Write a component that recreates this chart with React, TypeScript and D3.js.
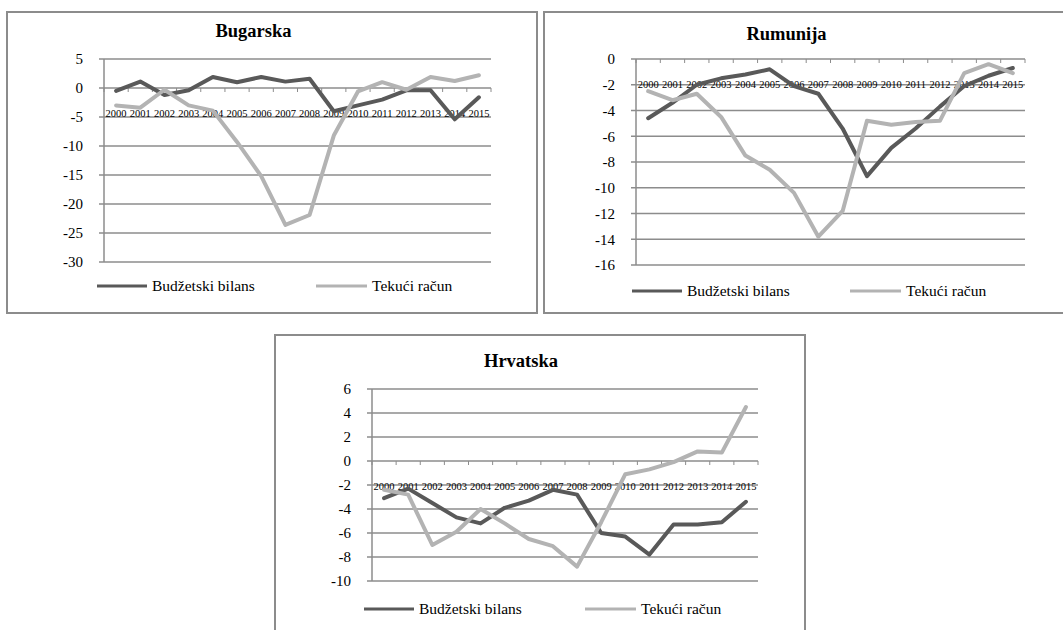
import React from "react";
import * as d3 from "d3";

const years = ["2000","2001","2002","2003","2004","2005","2006","2007","2008","2009","2010","2011","2012","2013","2014","2015"];

const bgBudget = [-0.5, 1.1, -1.2, -0.4, 1.9, 1.0, 1.9, 1.1, 1.6, -4.0, -3.0, -2.0, -0.4, -0.4, -5.4, -1.6];
const bgCurrent = [-3.0, -3.4, -0.3, -3.0, -3.9, -9.3, -15.2, -23.6, -21.9, -8.2, -0.6, 1.0, -0.3, 1.9, 1.2, 2.2];

const roBudget = [-4.6, -3.4, -2.0, -1.5, -1.2, -0.8, -2.1, -2.7, -5.4, -9.1, -6.9, -5.4, -3.7, -2.1, -1.3, -0.7];
const roCurrent = [-2.5, -3.2, -2.7, -4.5, -7.5, -8.6, -10.4, -13.8, -11.8, -4.8, -5.1, -4.9, -4.8, -1.1, -0.4, -1.1];

const hrBudget = [-3.1, -2.3, -3.5, -4.7, -5.2, -3.9, -3.3, -2.4, -2.8, -6.0, -6.3, -7.8, -5.3, -5.3, -5.1, -3.4];
const hrCurrent = [-2.4, -2.8, -7.0, -5.9, -4.0, -5.2, -6.5, -7.1, -8.8, -5.1, -1.1, -0.7, -0.1, 0.8, 0.7, 4.5];

const bgTicks = [5, 0, -5, -10, -15, -20, -25, -30];
const roTicks = [0, -2, -4, -6, -8, -10, -12, -14, -16];
const hrTicks = [6, 4, 2, 0, -2, -4, -6, -8, -10];

const seriesNames = ["Budžetski bilans", "Tekući račun"];
const DARK = "#595959";
const LIGHT = "#b3b3b3";
const GRID = "#8c8c8c";
const FONT = "'Liberation Serif', 'Times New Roman', serif";
const tf = { fontFamily: FONT };

type PanelProps = {
  title: string;
  budget: number[];
  current: number[];
  ticks: number[];
  frame: { x: number; y: number; w: number; h: number };
  plot: { l: number; r: number; t: number; b: number };
  titleY: number;
  legendY: number;
  legendX1: number;
  legendX2: number;
};

function Panel(p: PanelProps) {
  const x = d3.scaleBand<string>().domain(years).range([p.plot.l, p.plot.r]);
  const yMin = d3.min(p.ticks) as number;
  const yMax = d3.max(p.ticks) as number;
  const y = d3.scaleLinear().domain([yMin, yMax]).range([p.plot.b, p.plot.t]);
  const cx = (d: string) => (x(d) as number) + x.bandwidth() / 2;
  const line = d3
    .line<number>()
    .x((_, i) => cx(years[i]))
    .y((v) => y(v));
  const y0 = y(0);
  const titleX = (p.plot.l + p.plot.r) / 2 - 44;
  return (
    <g>
      <rect x={p.frame.x} y={p.frame.y} width={p.frame.w} height={p.frame.h} fill="#fff" stroke={GRID} strokeWidth={2} />
      <text x={titleX} y={p.titleY} textAnchor="middle" fontWeight="bold" fontSize={18.5} fill="#000" style={tf}>
        {p.title}
      </text>
      {p.ticks.map((t) => (
        <g key={t}>
          <line x1={p.plot.l - 5} x2={p.plot.r} y1={y(t)} y2={y(t)} stroke={GRID} strokeWidth={1.5} />
          <text x={p.plot.l - 21} y={y(t)} dy="0.35em" textAnchor="end" fontSize={15} fill="#000" style={tf}>
            {t}
          </text>
        </g>
      ))}
      <line x1={p.plot.l} x2={p.plot.l} y1={p.plot.t} y2={p.plot.b} stroke={GRID} strokeWidth={1.5} />
      {years.map((yr) => (
        <line key={"tk" + yr} x1={x(yr) as number} x2={x(yr) as number} y1={y0} y2={y0 + 4} stroke={GRID} strokeWidth={1} />
      ))}
      <line x1={p.plot.r} x2={p.plot.r} y1={y0} y2={y0 + 4} stroke={GRID} strokeWidth={1} />
      {years.map((yr) => (
        <text key={"lb" + yr} x={cx(yr)} y={y0 + 25} dy="0.35em" textAnchor="middle" fontSize={10.5} fill="#000" style={tf}>
          {yr}
        </text>
      ))}
      <path d={line(p.budget) as string} fill="none" stroke={DARK} strokeWidth={4} strokeLinejoin="round" strokeLinecap="round" />
      <path d={line(p.current) as string} fill="none" stroke={LIGHT} strokeWidth={4} strokeLinejoin="round" strokeLinecap="round" />
      <line x1={p.legendX1} x2={p.legendX1 + 50} y1={p.legendY} y2={p.legendY} stroke={DARK} strokeWidth={3} />
      <text x={p.legendX1 + 55} y={p.legendY} dy="0.35em" fontSize={15.5} fill="#000" style={tf}>
        {seriesNames[0]}
      </text>
      <line x1={p.legendX2} x2={p.legendX2 + 51} y1={p.legendY} y2={p.legendY} stroke={LIGHT} strokeWidth={3} />
      <text x={p.legendX2 + 56} y={p.legendY} dy="0.35em" fontSize={15.5} fill="#000" style={tf}>
        {seriesNames[1]}
      </text>
    </g>
  );
}

export default function App() {
  return (
    <svg width={1063} height={630} style={{ position: "absolute", left: 0, top: 0, background: "#fff" }}>
      <rect x={0} y={0} width={1063} height={630} fill="#fff" />
      <Panel
        title="Bugarska"
        budget={bgBudget}
        current={bgCurrent}
        ticks={bgTicks}
        frame={{ x: 7, y: 12, w: 530, h: 301 }}
        plot={{ l: 104, r: 491, t: 59, b: 262 }}
        titleY={37}
        legendY={286}
        legendX1={97}
        legendX2={316}
      />
      <Panel
        title="Rumunija"
        budget={roBudget}
        current={roCurrent}
        ticks={roTicks}
        frame={{ x: 544, y: 12, w: 530, h: 301 }}
        plot={{ l: 636, r: 1025, t: 59, b: 265 }}
        titleY={40}
        legendY={291}
        legendX1={632}
        legendX2={850}
      />
      <Panel
        title="Hrvatska"
        budget={hrBudget}
        current={hrCurrent}
        ticks={hrTicks}
        frame={{ x: 275, y: 335, w: 530, h: 310 }}
        plot={{ l: 372, r: 758, t: 389, b: 581 }}
        titleY={367}
        legendY={609}
        legendX1={364}
        legendX2={585}
      />
    </svg>
  );
}
